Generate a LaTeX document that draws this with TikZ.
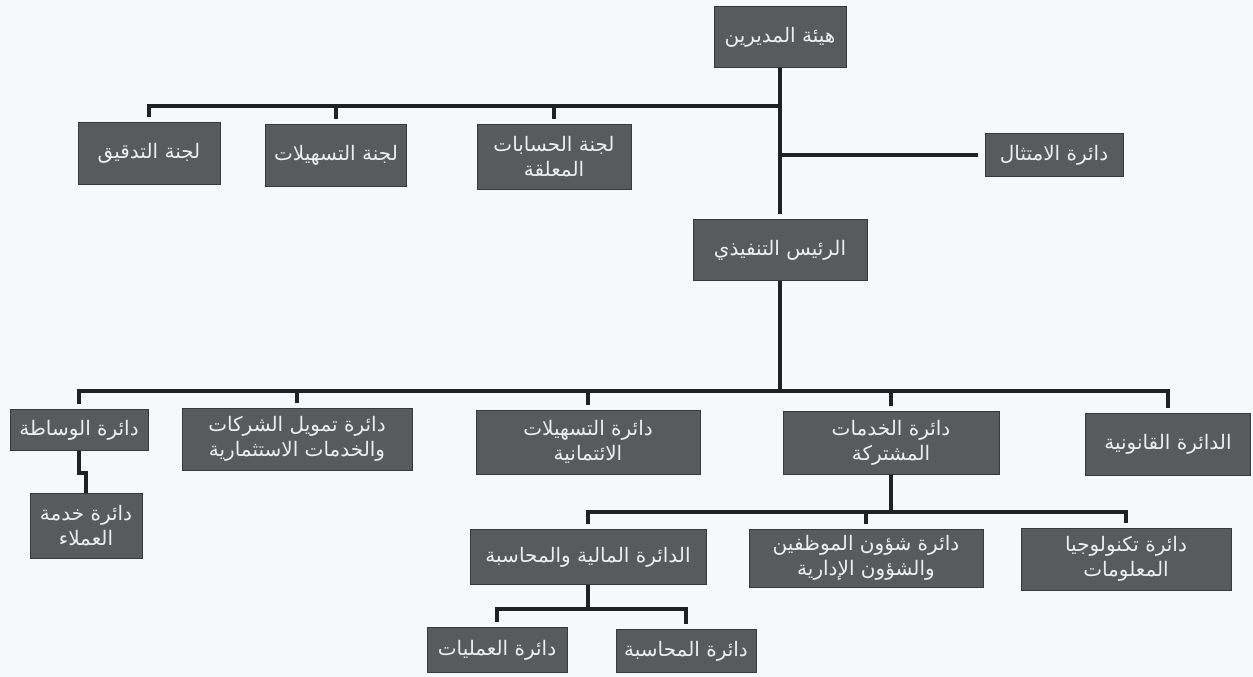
\documentclass[tikz,border=0pt]{standalone}
\usepackage{fontspec}
\newfontfamily\arabicfont[Script=Arabic]{DejaVu Sans}
\TeXXeTstate=1
\newcommand{\artxt}[1]{\beginR #1\endR}
\definecolor{boxgray}{RGB}{88,91,93}
\definecolor{boxedge}{RGB}{55,57,58}
\definecolor{boxtext}{RGB}{236,238,240}
\definecolor{linecol}{RGB}{32,33,35}
\definecolor{paper}{RGB}{247,248,250}
\tikzset{
  unit/.style={fill=boxgray, draw=boxedge, line width=1pt, text=boxtext,
    font=\arabicfont\fontsize{20}{25}\selectfont, align=center, inner sep=0pt},
  link/.style={draw=linecol, line width=4pt},
  drop/.style={link, shorten >=5pt},
}
\begin{document}
\begin{tikzpicture}[x=1pt, y=-1pt]
    \fill[paper] (0,0) rectangle (1253,677);
    \useasboundingbox (0,0) rectangle (1253,677);

    % Nodes (Board and committees)
    \node[unit, minimum width=132pt, minimum height=61pt] (board) at (780,37) {\artxt{هيئة المديرين}};
    \node[unit, minimum width=142pt, minimum height=62pt] (audit) at (149,153) {\artxt{لجنة التدقيق}};
    \node[unit, minimum width=141pt, minimum height=62pt] (facil) at (336,155) {\artxt{لجنة التسهيلات}};
    \node[unit, minimum width=154pt, minimum height=65pt] (suspn) at (554,157) {\artxt{لجنة الحسابات}\\\artxt{المعلقة}};
    \node[unit, minimum width=138pt, minimum height=43pt] (compl) at (1054,155) {\artxt{دائرة الامتثال}};
    \node[unit, minimum width=174pt, minimum height=61pt] (ceo) at (780,250) {\artxt{الرئيس التنفيذي}};

    % Nodes (Departments)
    \node[unit, minimum width=138pt, minimum height=41pt] (brok) at (79,430) {\artxt{دائرة الوساطة}};
    \node[unit, minimum width=112pt, minimum height=65pt] (cust) at (86,526) {\artxt{دائرة خدمة}\\\artxt{العملاء}};
    \node[unit, minimum width=230pt, minimum height=62pt] (tamw) at (297,439) {\artxt{دائرة تمويل الشركات}\\\artxt{والخدمات الاستثمارية}};
    \node[unit, minimum width=224pt, minimum height=64pt] (cred) at (588,442) {\artxt{دائرة التسهيلات}\\\artxt{الائتمانية}};
    \node[unit, minimum width=216pt, minimum height=63pt] (shared) at (891,443) {\artxt{دائرة الخدمات}\\\artxt{المشتركة}};
    \node[unit, minimum width=165pt, minimum height=62pt] (legal) at (1168,444) {\artxt{الدائرة القانونية}};

    % Nodes (Shared services units)
    \node[unit, minimum width=236pt, minimum height=55pt] (fin) at (588,557) {\artxt{الدائرة المالية والمحاسبة}};
    \node[unit, minimum width=234pt, minimum height=58pt] (hr) at (866,558) {\artxt{دائرة شؤون الموظفين}\\\artxt{والشؤون الإدارية}};
    \node[unit, minimum width=210pt, minimum height=62pt] (it) at (1126,559) {\artxt{دائرة تكنولوجيا}\\\artxt{المعلومات}};
    \node[unit, minimum width=140pt, minimum height=45pt] (ops) at (497,650) {\artxt{دائرة العمليات}};
    \node[unit, minimum width=140pt, minimum height=43pt] (acc) at (686,651) {\artxt{دائرة المحاسبة}};

    % Bus points
    \coordinate (topbus) at (780,106);
    \coordinate (cjoin) at (780,155);
    \coordinate (mainbus) at (780,391);
    \coordinate (sharedbus) at (891,512);
    \coordinate (finbus) at (588,609);
    \coordinate (jog) at (83,473);

    % Edges (Board)
    \draw[drop] (board) -- (ceo);
    \draw[drop] (topbus) -| (audit);
    \draw[drop] (topbus) -| (facil);
    \draw[drop] (topbus) -| (suspn);
    \draw[link, shorten >=7pt] (cjoin) -- (compl);

    % Edges (Chief executive)
    \draw[link] (ceo) -- (mainbus);
    \draw[drop] (mainbus) -| (brok);
    \draw[drop] (mainbus) -| (tamw);
    \draw[drop] (mainbus) -| (cred);
    \draw[drop] (mainbus) -| (shared);
    \draw[drop] (mainbus) -| (legal);
    \draw[link] (brok) |- (jog) -| (cust);

    % Edges (Shared services)
    \draw[link] (shared) -- (sharedbus);
    \draw[drop] (sharedbus) -| (fin);
    \draw[drop] (sharedbus) -| (hr);
    \draw[drop] (sharedbus) -| (it);
    \draw[link] (fin) -- (finbus);
    \draw[drop] (finbus) -| (ops);
    \draw[drop] (finbus) -| (acc);
\end{tikzpicture}
\end{document}
